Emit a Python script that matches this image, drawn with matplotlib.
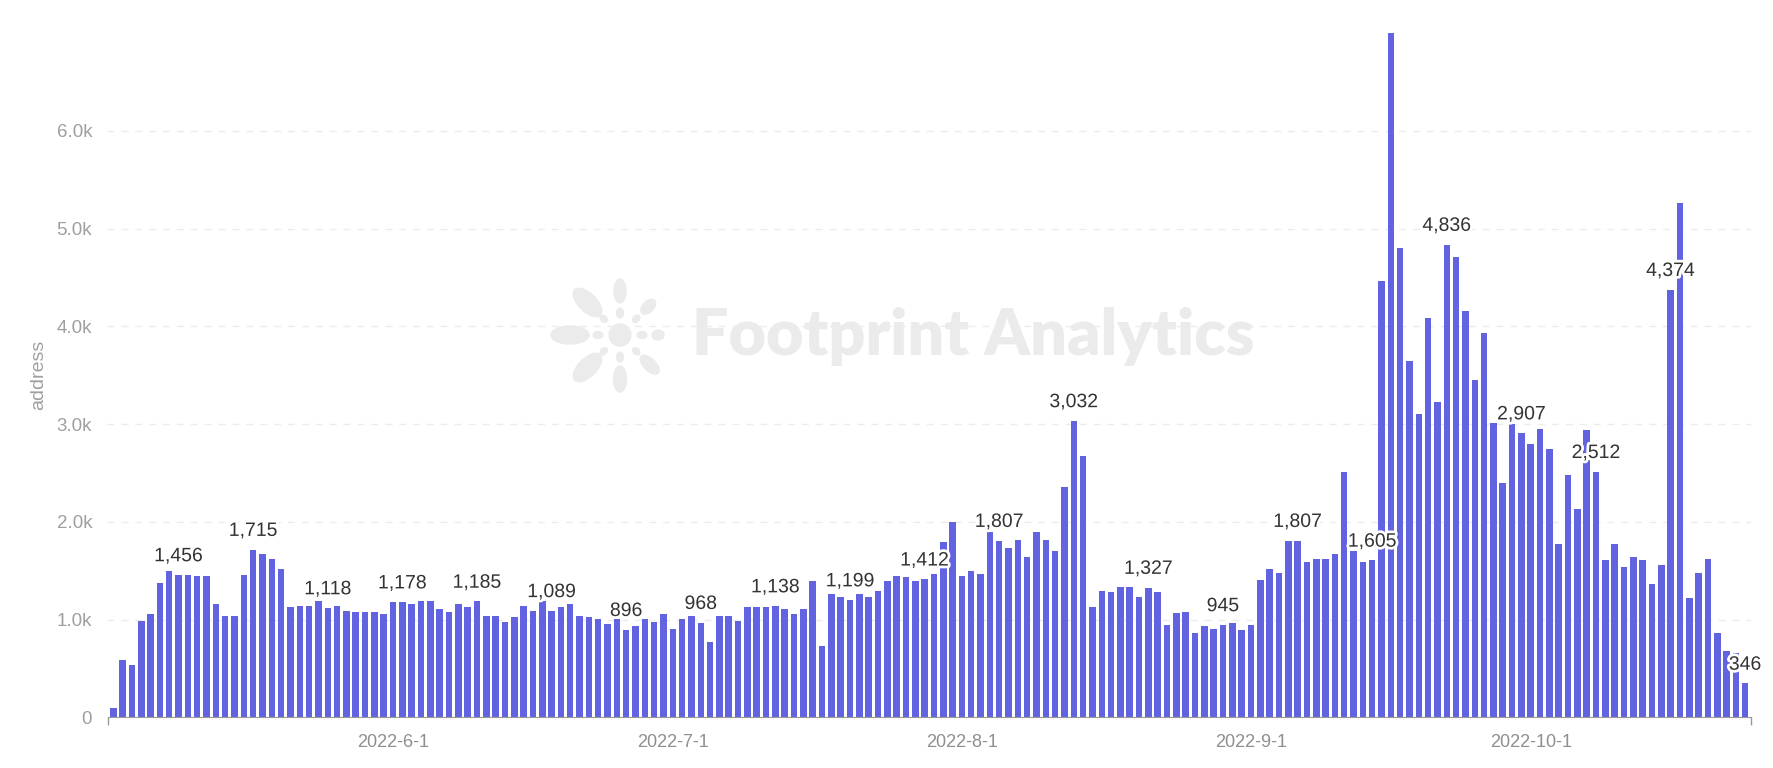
import math
import matplotlib.pyplot as plt
import matplotlib.patheffects as pe
from matplotlib.patches import Ellipse, Circle
import pandas as pd

# daily active addresses, 2022-05-02 .. 2022-10-24
values = [
    95, 586, 535, 988, 1056, 1376, 1496, 1456, 1456, 1445,
    1445, 1158, 1039, 1039, 1456, 1715, 1666, 1615, 1513, 1124,
    1141, 1141, 1193, 1118, 1141, 1090, 1073, 1073, 1073, 1056,
    1175, 1178, 1158, 1193, 1193, 1107, 1073, 1158, 1124, 1185,
    1039, 1039, 971, 1022, 1141, 1090, 1193, 1089, 1124, 1158,
    1039, 1022, 1005, 954, 1005, 896, 937, 1005, 971, 1056,
    903, 1005, 1039, 968, 767, 1039, 1039, 988, 1124, 1124,
    1124, 1138, 1107, 1056, 1107, 1397, 733, 1261, 1227, 1199,
    1261, 1227, 1295, 1397, 1448, 1431, 1397, 1412, 1465, 1790,
    2000, 1449, 1500, 1466, 1892, 1807, 1736, 1814, 1635, 1899,
    1814, 1703, 2355, 3032, 2669, 1132, 1297, 1280, 1331, 1331,
    1230, 1327, 1280, 946, 1064, 1081, 861, 929, 907, 945,
    963, 894, 940, 1403, 1519, 1472, 1800, 1807, 1588, 1620,
    1620, 1667, 2514, 1700, 1590, 1605, 4458, 7000, 4796, 3648,
    3106, 4088, 3222, 4836, 4713, 4157, 3449, 3935, 3006, 2398,
    3000, 2907, 2799, 2949, 2749, 1772, 2480, 2130, 2935, 2512,
    1611, 1772, 1539, 1639, 1611, 1367, 1557, 4374, 5261, 1217,
    1475, 1621, 859, 680, 662, 346,
]
start_date = '2022-05-02'
dates = pd.date_range(start_date, periods=len(values), freq='D')

x_tick_labels = ['2022-6-1', '2022-7-1', '2022-8-1', '2022-9-1', '2022-10-1']
y_ticks = [0, 1000, 2000, 3000, 4000, 5000, 6000]
y_tick_labels = ['0', '1.0k', '2.0k', '3.0k', '4.0k', '5.0k', '6.0k']
label_step = 8   # every 8th bar gets a value label, counted back from the last

bar_color = '#6163e0'
grey = '#9a9a9a'
wm_color = '#ebebeb'

plt.rcParams['font.family'] = ['Liberation Sans', 'DejaVu Sans']

W, H = 1774, 768
fig = plt.figure(figsize=(W / 100, H / 100), dpi=100)

# watermark layer, pixel coords (y down)
wm = fig.add_axes([0, 0, 1, 1], zorder=0)
wm.set_xlim(0, W)
wm.set_ylim(H, 0)
wm.axis('off')

cx, cy = 620, 335
wm.add_patch(Circle((cx, cy), 11, color=wm_color))
# inner ring of dots
for ang, r, s in [(90, 22, 7), (45, 23, 6), (0, 22, 7), (-45, 23, 6),
                  (-90, 22, 7), (-135, 23, 6), (180, 22, 7), (135, 23, 6)]:
    dx = r * math.cos(math.radians(ang))
    dy = -r * math.sin(math.radians(ang))
    wm.add_patch(Ellipse((cx + dx, cy + dy), s * 1.4, s, angle=-ang, color=wm_color))
# outer petals (angle, distance, length, width)
for ang, r, ln, wd in [(90, 44, 24, 12), (135, 46, 36, 18), (45, 40, 18, 11),
                       (180, 50, 38, 18), (0, 38, 12, 10), (-135, 46, 36, 18),
                       (-90, 44, 26, 13), (-45, 42, 24, 12)]:
    dx = r * math.cos(math.radians(ang))
    dy = -r * math.sin(math.radians(ang))
    wm.add_patch(Ellipse((cx + dx, cy + dy), ln, wd, angle=-ang, color=wm_color))
wm.text(692, 337, 'Footprint Analytics', fontsize=46.5, fontweight='heavy',
        family='Lato', color=wm_color, ha='left', va='center')

# main chart
ax = fig.add_axes([107.5 / W, 1 - 717.3 / H, (1751 - 107.5) / W, (717.3 - 33) / H], zorder=1)
ax.patch.set_alpha(0)

ax.bar(dates, values, width=0.7, color=bar_color, zorder=2)

half = pd.Timedelta(hours=0.62 * 24)
x0, x1 = dates[0] - half, dates[-1] + half
ax.set_xlim(x0, x1)
ax.set_ylim(0, max(values))

tick_dates = [pd.Timestamp(*map(int, t.split('-'))) for t in x_tick_labels]
ax.set_xticks(tick_dates)
ax.set_xticklabels(x_tick_labels)
ax.set_xticks([x0, x1], minor=True)
ax.tick_params(axis='x', which='major', length=0, pad=12, labelsize=13, labelcolor='#8f8f8f')
ax.tick_params(axis='x', which='minor', length=6, width=1, color=grey)

ax.set_yticks(y_ticks)
ax.set_yticklabels(y_tick_labels)
ax.tick_params(axis='y', length=0, pad=11, labelsize=13.5, labelcolor='#9f9f9f')

for y in y_ticks[1:]:
    ax.axhline(y, color='#ececec', lw=1, dashes=(5, 5), zorder=1)

for s in ['top', 'right', 'left']:
    ax.spines[s].set_visible(False)
ax.spines['bottom'].set_color(grey)

ax.set_ylabel('address', color='#a0a0a0', fontsize=14)
ax.yaxis.set_label_coords(-0.037, 0.5)

halo = [pe.withStroke(linewidth=4, foreground='white')]
for i in range(len(values) - 1, -1, -label_step):
    ax.annotate(f'{values[i]:,}', (dates[i], values[i]), xytext=(0, 7),
                textcoords='offset points', ha='center', va='bottom',
                fontsize=14, color='#333333', path_effects=halo, zorder=5)

fig.savefig('out.png', dpi=100)
